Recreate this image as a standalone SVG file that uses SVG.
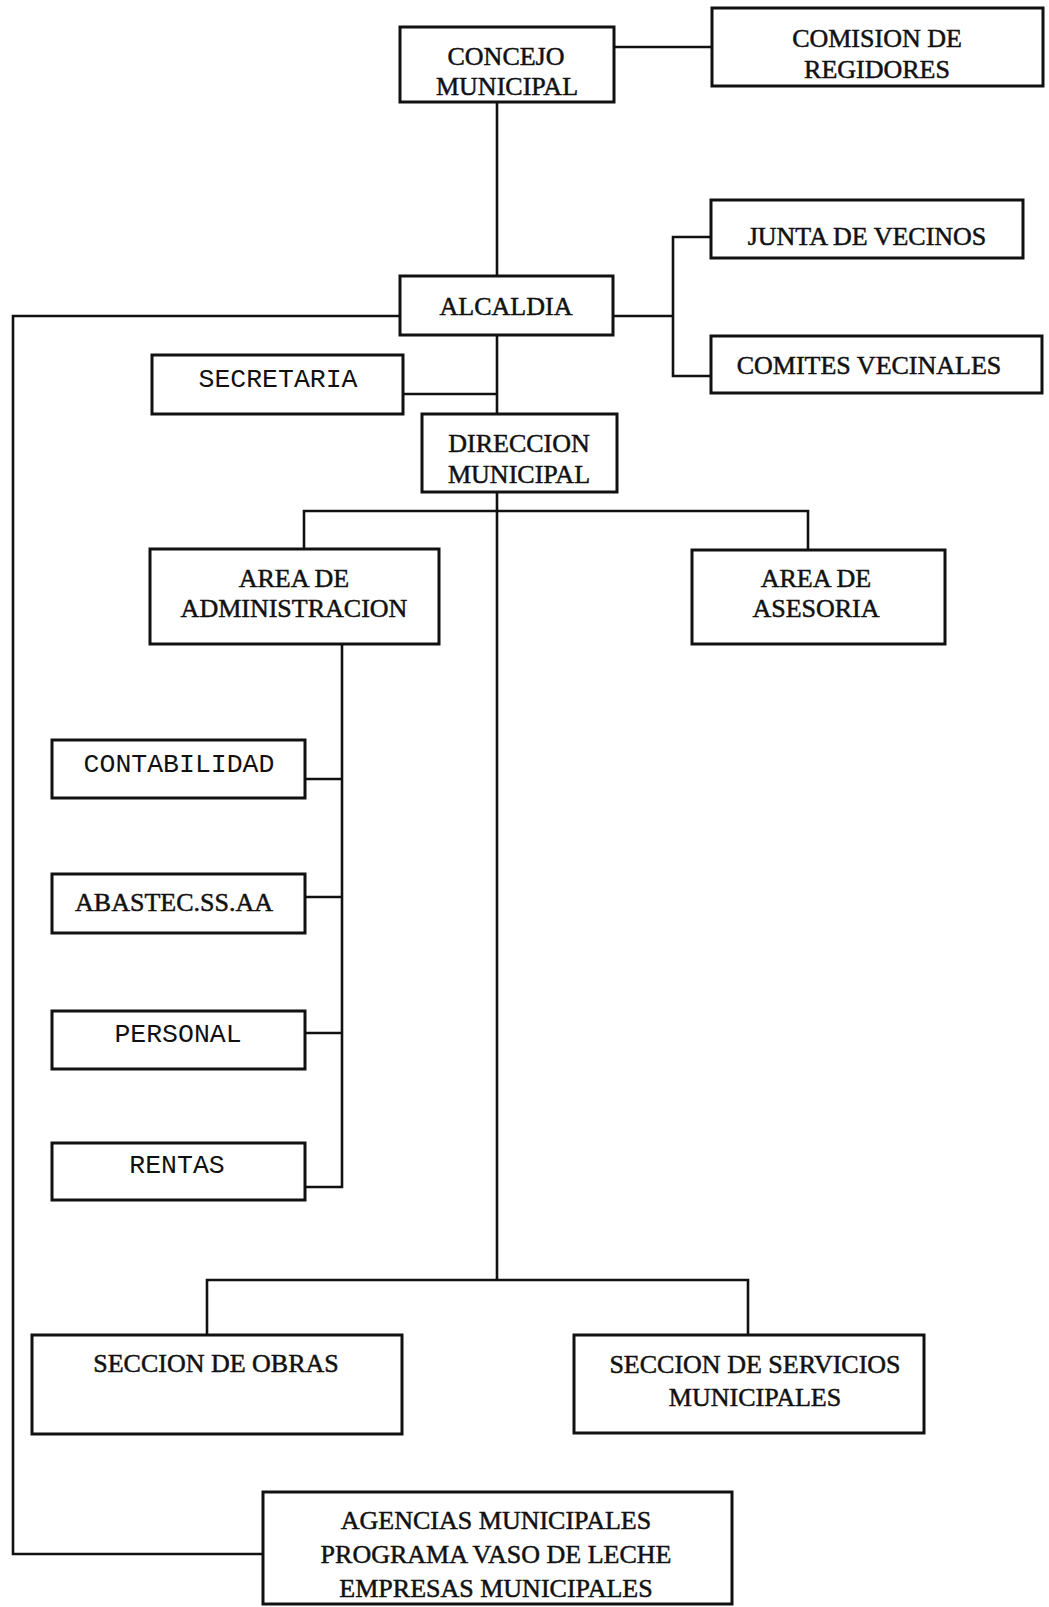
<svg xmlns="http://www.w3.org/2000/svg" width="1049" height="1607" viewBox="0 0 1049 1607">
<style>
.box{fill:#fff;stroke:#111;stroke-width:3}
.ln{fill:none;stroke:#111;stroke-width:2.6}
.t{font-family:"Liberation Serif","Times New Roman",serif;font-size:26px;fill:#111;stroke:#111;stroke-width:0.5;text-anchor:middle}
.m{font-family:"Liberation Mono","Courier New",monospace;font-size:26.5px;fill:#111;text-anchor:middle}
</style>
<rect width="1049" height="1607" fill="#fff"/>
<g id="connectors">
<path class="ln" d="M614 47H712"/>
<path class="ln" d="M497 102V276"/>
<path class="ln" d="M400 316H13V1554H263"/>
<path class="ln" d="M613 316H673M711 237H673V376H711"/>
<path class="ln" d="M497 335V414"/>
<path class="ln" d="M403 394H497"/>
<path class="ln" d="M497 492V1280"/>
<path class="ln" d="M304 549V511H808V550"/>
<path class="ln" d="M342 644V1187H305M305 779H342M305 897H342M305 1033H342"/>
<path class="ln" d="M207 1335V1280H748V1335"/>
</g>
<g id="concejo"><rect class="box" x="400" y="27" width="214" height="75"/><text class="t" x="506" y="65">CONCEJO</text><text class="t" x="507" y="95">MUNICIPAL</text></g>
<g id="comision"><rect class="box" x="712" y="8" width="331" height="78"/><text class="t" x="877" y="47">COMISION DE</text><text class="t" x="877" y="78">REGIDORES</text></g>
<g id="alcaldia"><rect class="box" x="400" y="276" width="213" height="59"/><text class="t" x="506" y="315">ALCALDIA</text></g>
<g id="junta"><rect class="box" x="711" y="200" width="312" height="58"/><text class="t" x="867" y="245">JUNTA DE VECINOS</text></g>
<g id="comites"><rect class="box" x="711" y="336" width="331" height="57"/><text class="t" x="869" y="374">COMITES VECINALES</text></g>
<g id="secretaria"><rect class="box" x="152" y="355" width="251" height="59"/><text class="m" x="278" y="387">SECRETARIA</text></g>
<g id="direccion"><rect class="box" x="422" y="414" width="195" height="78"/><text class="t" x="519" y="452">DIRECCION</text><text class="t" x="519" y="483">MUNICIPAL</text></g>
<g id="admin"><rect class="box" x="150" y="549" width="289" height="95"/><text class="t" x="294" y="587">AREA DE</text><text class="t" x="294" y="617">ADMINISTRACION</text></g>
<g id="asesoria"><rect class="box" x="692" y="550" width="253" height="94"/><text class="t" x="816" y="587">AREA DE</text><text class="t" x="816" y="617">ASESORIA</text></g>
<g id="contabilidad"><rect class="box" x="52" y="740" width="253" height="58"/><text class="m" x="179" y="772">CONTABILIDAD</text></g>
<g id="abastec"><rect class="box" x="52" y="874" width="253" height="59"/><text class="t" x="174" y="911">ABASTEC.SS.AA</text></g>
<g id="personal"><rect class="box" x="52" y="1011" width="253" height="58"/><text class="m" x="178" y="1042">PERSONAL</text></g>
<g id="rentas"><rect class="box" x="52" y="1143" width="253" height="57"/><text class="m" x="177" y="1173">RENTAS</text></g>
<g id="obras"><rect class="box" x="32" y="1335" width="370" height="99"/><text class="t" x="216" y="1372">SECCION DE OBRAS</text></g>
<g id="servicios"><rect class="box" x="574" y="1335" width="350" height="98"/><text class="t" x="755" y="1373">SECCION DE SERVICIOS</text><text class="t" x="755" y="1406">MUNICIPALES</text></g>
<g id="agencias"><rect class="box" x="263" y="1492" width="469" height="112"/><text class="t" x="496" y="1529">AGENCIAS MUNICIPALES</text><text class="t" x="496" y="1563">PROGRAMA VASO DE LECHE</text><text class="t" x="496" y="1597">EMPRESAS MUNICIPALES</text></g>
</svg>
